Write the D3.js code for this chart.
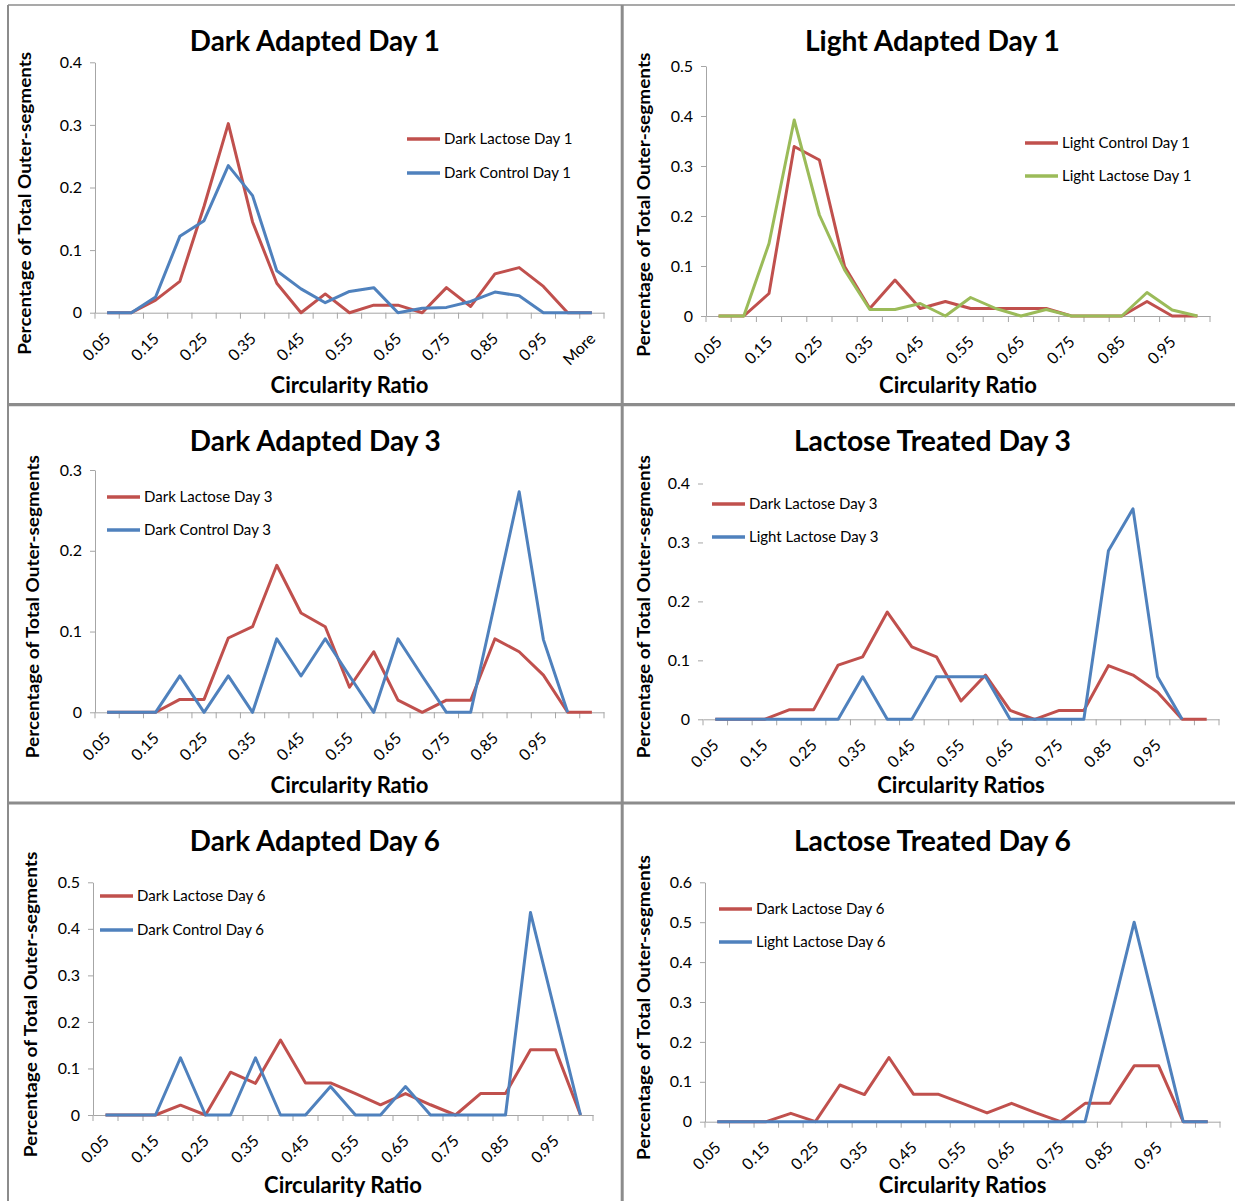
<!DOCTYPE html>
<html>
<head>
<meta charset="utf-8">
<script src="https://cdn.jsdelivr.net/npm/d3@7"></script>
<style>
  body { margin: 0; background: #ffffff; }
  svg { display: block; }
</style>
</head>
<body>
<svg id="chart" width="1235" height="1201"></svg>
<script>
// ---------------- DATA ----------------
const categoriesMore  = ["0.05","0.1","0.15","0.2","0.25","0.3","0.35","0.4","0.45","0.5","0.55","0.6","0.65","0.7","0.75","0.8","0.85","0.9","0.95","1","More"];
const categoriesBlank = ["0.05","0.1","0.15","0.2","0.25","0.3","0.35","0.4","0.45","0.5","0.55","0.6","0.65","0.7","0.75","0.8","0.85","0.9","0.95","1",""];
const categories20    = ["0.05","0.1","0.15","0.2","0.25","0.3","0.35","0.4","0.45","0.5","0.55","0.6","0.65","0.7","0.75","0.8","0.85","0.9","0.95","1"];

const yTicks03 = [0, 0.1, 0.2, 0.3];
const yTicks04 = [0, 0.1, 0.2, 0.3, 0.4];
const yTicks05 = [0, 0.1, 0.2, 0.3, 0.4, 0.5];
const yTicks06 = [0, 0.1, 0.2, 0.3, 0.4, 0.5, 0.6];

// Dark Adapted Day 1
const darkLactoseDay1 = [0,0,0.02,0.05,0.17,0.302,0.145,0.047,0,0.03,0,0.012,0.012,0,0.04,0.01,0.062,0.072,0.042,0,0];
const darkControlDay1 = [0,0,0.025,0.122,0.147,0.235,0.187,0.067,0.038,0.016,0.034,0.04,0,0.007,0.0085,0.018,0.033,0.027,0,0,0];

// Light Adapted Day 1
const lightControlDay1 = [0,0,0.045,0.339,0.312,0.099,0.015,0.072,0.015,0.029,0.015,0.015,0.015,0.015,0,0,0,0.029,0,0];
const lightLactoseDay1 = [0,0,0.145,0.392,0.202,0.092,0.013,0.013,0.025,0,0.037,0.015,0,0.013,0,0,0,0.047,0.012,0];

// Day 3
const darkLactoseDay3  = [0,0,0,0.016,0.016,0.092,0.106,0.182,0.123,0.106,0.031,0.075,0.015,0,0.015,0.015,0.091,0.075,0.046,0,0];
const darkControlDay3  = [0,0,0,0.045,0,0.045,0,0.091,0.045,0.091,0.045,0,0.091,0.045,0,0,0.136,0.273,0.09,0,null];
const lightLactoseDay3 = [0,0,0,0,0,0,0.072,0,0,0.072,0.072,0.072,0,0,0,0,0.286,0.357,0.072,0,null];

// Day 6
const darkLactoseDay6  = [0,0,0,0.021,0,0.092,0.068,0.161,0.069,0.069,0.046,0.022,0.046,0.022,0,0.046,0.046,0.14,0.14,0,0];
const darkControlDay6  = [0,0,0,0.123,0,0,0.123,0,0,0.061,0,0,0.061,0,0,0,0,0.435,0.217,0];
const lightLactoseDay6 = [0,0,0,0,0,0,0,0,0,0,0,0,0,0,0,0,0.25,0.5,0.25,0,0];

const seriesNames = {
  dl1: "Dark Lactose Day 1", dc1: "Dark Control Day 1",
  lc1: "Light Control Day 1", ll1: "Light Lactose Day 1",
  dl3: "Dark Lactose Day 3", dc3: "Dark Control Day 3", ll3: "Light Lactose Day 3",
  dl6: "Dark Lactose Day 6", dc6: "Dark Control Day 6", ll6: "Light Lactose Day 6"
};

// ---------------- STYLE ----------------
const RED = "#C0504D", BLUE = "#4F81BD", GREEN = "#9BBB59";
const AXIS = "#A6A6A6";
const FONT = "Lato, 'Open Sans', sans-serif";
const yTitleText = "Percentage of Total Outer-segments";
const LINE_W = 3;

// ---------------- LAYOUT (per panel) ----------------
const panels = [
  { title: "Dark Adapted Day 1", tx: 314.8, ty: 51, tw: 250,
    x0: 95, x1: 604, yTop: 62.3, yZero: 312.7, yMax: 0.4, yTicks: yTicks04, yLine: true,
    cats: categoriesMore,
    series: [{name: seriesNames.dl1, values: darkLactoseDay1, color: RED},
             {name: seriesNames.dc1, values: darkControlDay1, color: BLUE}],
    yTx: 31, yTy: 203.3, yTw: 303,
    xTitle: "Circularity Ratio", xTx: 349.5, xTy: 393,
    lx: 407, ly: [139, 173] },
  { title: "Light Adapted Day 1", tx: 932.4, ty: 51, tw: 255,
    x0: 706, x1: 1210, yTop: 66, yZero: 316, yMax: 0.5, yTicks: yTicks05, yLine: true,
    cats: categories20,
    series: [{name: seriesNames.lc1, values: lightControlDay1, color: RED},
             {name: seriesNames.ll1, values: lightLactoseDay1, color: GREEN}],
    yTx: 650, yTy: 204.7, yTw: 304,
    xTitle: "Circularity Ratio", xTx: 958, xTy: 393,
    lx: 1025, ly: [143, 176] },
  { title: "Dark Adapted Day 3", tx: 315.3, ty: 451, tw: 251,
    x0: 95, x1: 604, yTop: 470, yZero: 712.3, yMax: 0.3, yTicks: yTicks03, yLine: true,
    cats: categoriesBlank,
    series: [{name: seriesNames.dl3, values: darkLactoseDay3, color: RED},
             {name: seriesNames.dc3, values: darkControlDay3, color: BLUE}],
    yTx: 38.5, yTy: 606.7, yTw: 303,
    xTitle: "Circularity Ratio", xTx: 349.5, xTy: 793,
    lx: 107, ly: [497, 530] },
  { title: "Lactose Treated Day 3", tx: 932.4, ty: 451, tw: 277,
    x0: 703, x1: 1219, yTop: 483.5, yZero: 719.3, yMax: 0.4, yTicks: yTicks04, yLine: false,
    cats: categoriesBlank,
    series: [{name: seriesNames.dl3, values: darkLactoseDay3, color: RED},
             {name: seriesNames.ll3, values: lightLactoseDay3, color: BLUE}],
    yTx: 650, yTy: 606.7, yTw: 303,
    xTitle: "Circularity Ratios", xTx: 961, xTy: 793,
    lx: 712, ly: [504, 537] },
  { title: "Dark Adapted Day 6", tx: 314.8, ty: 851, tw: 250,
    x0: 93, x1: 593, yTop: 882.3, yZero: 1115, yMax: 0.5, yTicks: yTicks05, yLine: true,
    cats: categories20,
    series: [{name: seriesNames.dl6, values: darkLactoseDay6, color: RED},
             {name: seriesNames.dc6, values: darkControlDay6, color: BLUE}],
    yTx: 37, yTy: 1004.5, yTw: 305.6,
    xTitle: "Circularity Ratio", xTx: 343, xTy: 1193,
    lx: 100, ly: [896, 930] },
  { title: "Lactose Treated Day 6", tx: 932.4, ty: 851, tw: 277,
    x0: 705, x1: 1220, yTop: 882.3, yZero: 1121.7, yMax: 0.6, yTicks: yTicks06, yLine: true,
    cats: categoriesBlank,
    series: [{name: seriesNames.dl6, values: darkLactoseDay6, color: RED},
             {name: seriesNames.ll6, values: lightLactoseDay6, color: BLUE}],
    yTx: 650, yTy: 1007.5, yTw: 305,
    xTitle: "Circularity Ratios", xTx: 962.6, xTy: 1193,
    lx: 719, ly: [909, 942] }
];

const svg = d3.select("#chart");

// ---------------- FRAME ----------------
const frame = svg.append("g").attr("stroke", "#8C8C8C").attr("fill", "none");
frame.append("line").attr("x1", 8).attr("x2", 1235).attr("y1", 5).attr("y2", 5).attr("stroke-width", 1.5);
frame.append("line").attr("x1", 8).attr("x2", 8).attr("y1", 5).attr("y2", 1201).attr("stroke-width", 2);
frame.append("line").attr("x1", 622.2).attr("x2", 622.2).attr("y1", 5).attr("y2", 1201).attr("stroke-width", 3);
frame.append("line").attr("x1", 8).attr("x2", 1235).attr("y1", 404.6).attr("y2", 404.6).attr("stroke-width", 3.2);
frame.append("line").attr("x1", 8).attr("x2", 1235).attr("y1", 803).attr("y2", 803).attr("stroke-width", 3.2);

const yFmt = d => d === 0 ? "0" : d3.format(".1f")(d);

panels.forEach(p => {
  const g = svg.append("g");
  const x = d3.scaleBand().domain(p.cats).range([p.x0, p.x1]).padding(0);
  const y = d3.scaleLinear().domain([0, p.yMax]).range([p.yZero, p.yTop]);

  // title
  g.append("text").text(p.title)
    .attr("x", p.tx).attr("y", p.ty)
    .attr("text-anchor", "middle")
    .attr("font-family", FONT).attr("font-weight", "bold").attr("font-size", 28)
    .attr("textLength", p.tw).attr("lengthAdjust", "spacingAndGlyphs")
    .attr("fill", "#000");

  // y axis
  const yg = g.append("g").attr("transform", `translate(${p.x0},0)`)
    .call(d3.axisLeft(y).tickValues(p.yTicks).tickSize(5).tickSizeOuter(0).tickPadding(8).tickFormat(yFmt));
  yg.attr("font-family", FONT).attr("font-size", 16);
  yg.select(".domain").attr("stroke", p.yLine ? AXIS : "none");
  yg.selectAll(".tick line").attr("stroke", AXIS);
  yg.selectAll(".tick text").attr("fill", "#000");

  // x axis (line + labels)
  const xg = g.append("g").attr("transform", `translate(0,${p.yZero})`)
    .call(d3.axisBottom(x)
      .tickValues(p.cats.filter((c, i) => i % 2 === 0 && c !== ""))
      .tickSize(0).tickSizeOuter(0));
  xg.attr("font-family", FONT).attr("font-size", 16);
  xg.select(".domain").attr("stroke", AXIS);
  xg.selectAll(".tick text")
    .attr("x", 0).attr("y", 0).attr("dy", 0)
    .attr("text-anchor", "end")
    .attr("transform", "translate(4.5,27) rotate(-45)")
    .attr("fill", "#000");

  // category boundary tick marks
  const bounds = p.cats.map(c => x(c)).concat([x.range()[1]]);
  g.append("g").selectAll("line").data(bounds).join("line")
    .attr("x1", d => d).attr("x2", d => d)
    .attr("y1", p.yZero).attr("y2", p.yZero + 6)
    .attr("stroke", AXIS);

  // series lines
  const line = d3.line()
    .defined(d => d.v !== null && d.v !== undefined)
    .x(d => x(d.c) + x.bandwidth() / 2)
    .y(d => y(d.v));
  p.series.forEach(s => {
    g.append("path")
      .datum(p.cats.map((c, i) => ({ c: c, v: s.values[i] })))
      .attr("d", line)
      .attr("fill", "none")
      .attr("stroke", s.color)
      .attr("stroke-width", LINE_W)
      .attr("stroke-linejoin", "round")
      .attr("stroke-linecap", "butt");
  });

  // legend
  const lg = g.append("g");
  p.series.forEach((s, i) => {
    lg.append("line")
      .attr("x1", p.lx).attr("x2", p.lx + 33)
      .attr("y1", p.ly[i]).attr("y2", p.ly[i])
      .attr("stroke", s.color).attr("stroke-width", LINE_W + 0.4);
    lg.append("text").text(s.name)
      .attr("x", p.lx + 37).attr("y", p.ly[i]).attr("dy", "0.35em")
      .attr("font-family", FONT).attr("font-size", 15).attr("fill", "#000");
  });

  // y axis title
  g.append("text").text(yTitleText)
    .attr("transform", `translate(${p.yTx},${p.yTy}) rotate(-90)`)
    .attr("text-anchor", "middle")
    .attr("font-family", FONT).attr("font-weight", "bold").attr("font-size", 16.5)
    .attr("textLength", p.yTw).attr("lengthAdjust", "spacingAndGlyphs")
    .attr("fill", "#000");

  // x axis title
  g.append("text").text(p.xTitle)
    .attr("x", p.xTx).attr("y", p.xTy)
    .attr("text-anchor", "middle")
    .attr("font-family", FONT).attr("font-weight", "bold").attr("font-size", 22)
    .attr("fill", "#000");
});
</script>
</body>
</html>
